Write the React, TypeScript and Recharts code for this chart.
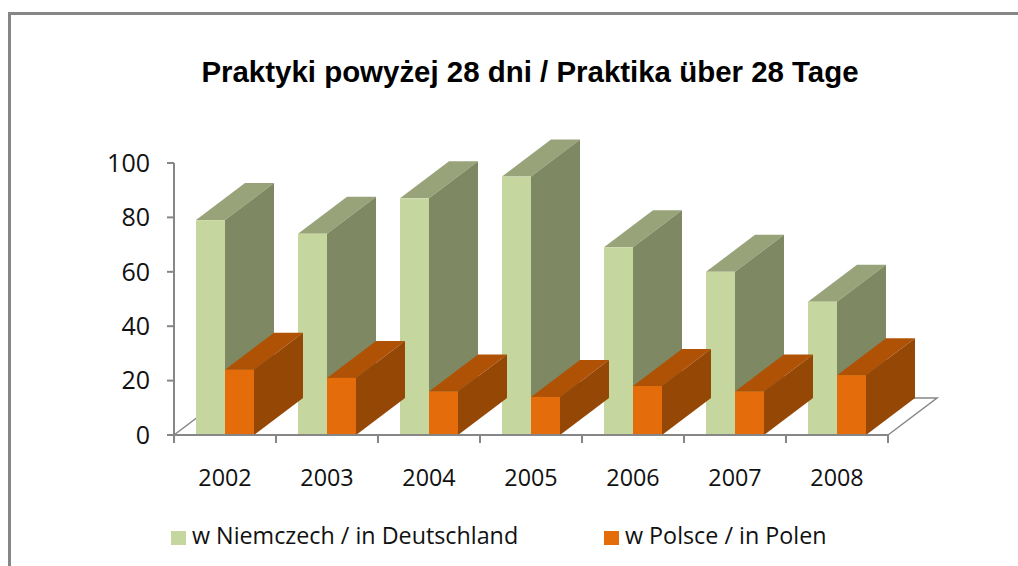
import { Bar, BarChart, Legend, XAxis, YAxis, usePlotArea } from "recharts";

const years = ["2002", "2003", "2004", "2005", "2006", "2007", "2008"];
const germany = [79, 74, 87, 95, 69, 60, 49];
const poland = [24, 21, 16, 14, 18, 16, 22];
const yTicks = [0, 20, 40, 60, 80, 100];

const chartData = years.map((year, i) => ({ year, germany: germany[i], poland: poland[i] }));

const DEPTH_X = 49;
const DEPTH_Y = 37;
const BAR_SIZE = 29;
const AXIS_COLOR = "#868686";
const FONT = "'Open Sans', sans-serif";

// extruded bar: front face plus top and side faces
function Box3D(props: any) {
  const { x, y, width, height, index, front, top, side, clipGap } = props;
  const r = x + width;
  const b = y + height;
  const clipId = `clip-${clipGap ? "o" : "g"}-${index}`;
  // the next category's green front sits over this bar's depth
  const clipped = clipGap && index < years.length - 1;
  return (
    <g>
      {clipped && (
        <clipPath id={clipId}>
          <rect x={x} y={y - DEPTH_Y - 2} width={width + clipGap} height={height + DEPTH_Y + 4} />
        </clipPath>
      )}
      <g clipPath={clipped ? `url(#${clipId})` : undefined}>
        <polygon
          points={`${x},${y} ${x + DEPTH_X},${y - DEPTH_Y} ${r + DEPTH_X},${y - DEPTH_Y} ${r},${y}`}
          fill={top}
        />
        <polygon
          points={`${r},${y} ${r + DEPTH_X},${y - DEPTH_Y} ${r + DEPTH_X},${b - DEPTH_Y} ${r},${b}`}
          fill={side}
        />
      </g>
      <rect x={x} y={y} width={width} height={height} fill={front} />
    </g>
  );
}

// the 3D floor behind the bars
function Floor() {
  const plot = usePlotArea();
  if (!plot) return null;
  const l = plot.x;
  const r = plot.x + plot.width;
  const b = plot.y + plot.height;
  return (
    <polyline
      points={`${l},${b} ${l + DEPTH_X},${b - DEPTH_Y} ${r + DEPTH_X},${b - DEPTH_Y} ${r},${b}`}
      fill="none"
      stroke={AXIS_COLOR}
      strokeWidth={1.5}
    />
  );
}

// label under the band, tick marks on the band edges
function YearTick(props: any) {
  const { x, y, payload, index } = props;
  const band = 714 / years.length;
  const left = x - band / 2;
  const right = x + band / 2;
  return (
    <g>
      <line x1={left} x2={left} y1={y - 8} y2={y} stroke={AXIS_COLOR} strokeWidth={2} />
      {index === years.length - 1 && (
        <line x1={right} x2={right} y1={y - 8} y2={y} stroke={AXIS_COLOR} strokeWidth={2} />
      )}
      <text x={x} y={y + 43} textAnchor="middle" fontFamily={FONT} fontSize={23.3} fill="#111">
        {payload.value}
      </text>
    </g>
  );
}

function LegendRow(props: any) {
  const { payload } = props;
  return (
    <div style={{ position: "relative", height: 30, fontFamily: FONT, fontSize: 23.3, color: "#111" }}>
      {(payload || []).map((item: any, i: number) => (
        <div
          key={item.value}
          style={{ position: "absolute", left: i === 0 ? 0 : 433, top: 0, whiteSpace: "nowrap", lineHeight: "30px" }}
        >
          <span
            style={{
              display: "inline-block",
              width: 15,
              height: 14,
              background: item.color,
              marginRight: 6,
              verticalAlign: -1,
            }}
          />
          {item.value}
        </div>
      ))}
    </div>
  );
}

export default function App() {
  return (
    <div
      style={{
        position: "absolute",
        left: 0,
        top: 0,
        width: 1018,
        height: 566,
        overflow: "hidden",
        background: "#fff",
      }}
    >
      <div
        style={{
          position: "absolute",
          left: 8,
          top: 12,
          width: 1100,
          height: 700,
          border: `3px solid ${AXIS_COLOR}`,
          boxSizing: "border-box",
        }}
      />
      <div
        style={{
          position: "absolute",
          left: 0,
          width: 1060,
          top: 55,
          textAlign: "center",
          fontFamily: "'Liberation Sans', sans-serif",
          fontWeight: "bold",
          fontSize: 29.45,
          color: "#000",
        }}
      >
        Praktyki powyżej 28 dni / Praktika über 28 Tage
      </div>
      <BarChart
        width={1018}
        height={566}
        data={chartData}
        margin={{ top: 163, right: 130, bottom: 0, left: 0 }}
        barSize={BAR_SIZE}
        barGap={0}
        style={{ position: "absolute", left: 0, top: 0 }}
      >
        <Floor />
        <XAxis
          dataKey="year"
          height={101}
          tickLine={false}
          tick={<YearTick />}
          interval={0}
          axisLine={{ stroke: AXIS_COLOR, strokeWidth: 2 }}
        />
        <YAxis
          width={174}
          domain={[0, 100]}
          ticks={yTicks}
          tickSize={7}
          tickMargin={17}
          axisLine={{ stroke: AXIS_COLOR, strokeWidth: 2 }}
          tickLine={{ stroke: AXIS_COLOR, strokeWidth: 2 }}
          tick={{ fontFamily: FONT, fontSize: 25, fill: "#111" }}
        />
        <Legend
          content={<LegendRow />}
          wrapperStyle={{ position: "absolute", left: 171, top: 520, width: 700 }}
        />
        <Bar
          dataKey="germany"
          name="w Niemczech / in Deutschland"
          fill="#c5d79f"
          isAnimationActive={false}
          shape={<Box3D front="#c5d79f" top="#98a37a" side="#7e8963" />}
        />
        <Bar
          dataKey="poland"
          name="w Polsce / in Polen"
          fill="#e46c0a"
          isAnimationActive={false}
          shape={<Box3D front="#e46c0a" top="#b05205" side="#954706" clipGap={73} />}
        />
      </BarChart>
    </div>
  );
}
